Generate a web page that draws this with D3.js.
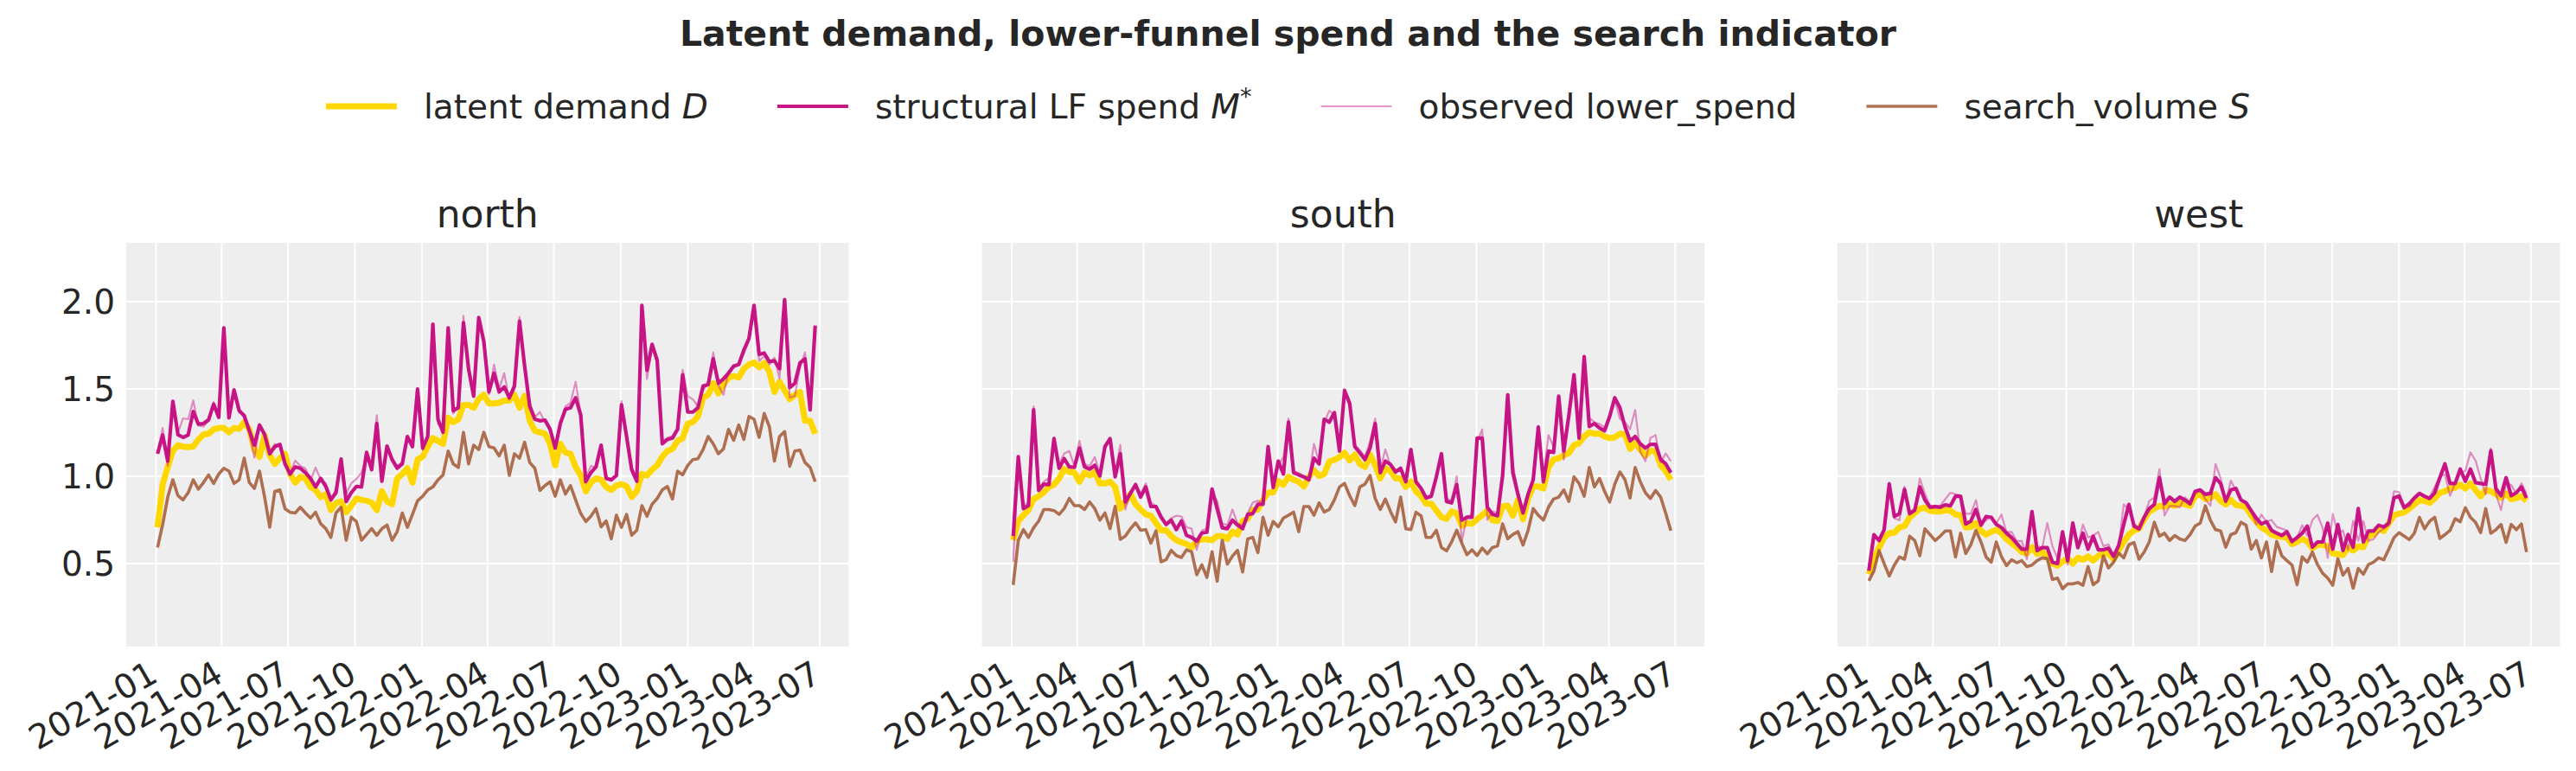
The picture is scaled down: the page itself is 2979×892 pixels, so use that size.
<!DOCTYPE html>
<html>
<head>
<meta charset="utf-8">
<script src="https://cdn.jsdelivr.net/npm/d3@7"></script>
<style>
  body { margin: 0; background: #fff; }
  text { font-family: "DejaVu Sans", sans-serif; fill: #262626; }
</style>
</head>
<body>
<svg id="chart" width="2979" height="892"></svg>
<script>
// weekly index (Sundays), 2021-01-03 .. 2023-06-25
const firstWeek = "2021-01-03";
const lastWeek = "2023-06-25";
const xTickLabels = ["2021-01", "2021-04", "2021-07", "2021-10", "2022-01", "2022-04",
    "2022-07", "2022-10", "2023-01", "2023-04", "2023-07"];
const yTickValues = [0.5, 1.0, 1.5, 2.0];
const regions = ["north", "south", "west"];

// north
const northDemand = [0.708, 0.955, 1.054, 1.145, 1.178, 1.170, 1.167, 1.170, 1.211, 1.239,
    1.244, 1.269, 1.277, 1.277, 1.252, 1.277, 1.272, 1.310, 1.269, 1.153,
    1.112, 1.236, 1.120, 1.071, 1.104, 1.129, 1.013, 0.964, 0.997, 0.988,
    0.939, 0.922, 0.881, 0.898, 0.807, 0.848, 0.856, 0.794, 0.832, 0.873,
    0.865, 0.860, 0.848, 0.807, 0.914, 0.856, 0.840, 0.988, 1.013, 1.046,
    0.964, 1.096, 1.112, 1.170, 1.219, 1.203, 1.186, 1.335, 1.310, 1.327,
    1.409, 1.409, 1.393, 1.442, 1.467, 1.417, 1.417, 1.421, 1.434, 1.434,
    1.467, 1.393, 1.460, 1.318, 1.261, 1.252, 1.244, 1.186, 1.063, 1.186,
    1.137, 1.129, 1.054, 1.005, 0.914, 0.964, 0.988, 0.980, 0.939, 0.922,
    0.947, 0.955, 0.942, 0.881, 0.914, 1.013, 1.005, 1.038, 1.063, 1.112,
    1.145, 1.157, 1.203, 1.219, 1.302, 1.310, 1.343, 1.450, 1.467, 1.533,
    1.475, 1.525, 1.566, 1.574, 1.566, 1.616, 1.640, 1.652, 1.624, 1.649,
    1.599, 1.483, 1.541, 1.492, 1.442, 1.467, 1.483, 1.318, 1.318, 1.244];
const northSpend = [1.129, 1.236, 1.087, 1.429, 1.239, 1.223, 1.236, 1.371, 1.299, 1.302,
    1.323, 1.413, 1.338, 1.850, 1.335, 1.495, 1.376, 1.347, 1.261, 1.178,
    1.294, 1.239, 1.129, 1.170, 1.183, 1.071, 1.013, 1.054, 1.046, 1.021,
    0.988, 0.939, 0.988, 0.942, 0.865, 0.906, 1.099, 0.856, 0.906, 0.942,
    0.939, 1.137, 1.038, 1.302, 0.972, 1.173, 1.096, 1.046, 1.071, 1.228,
    1.170, 1.500, 1.162, 1.228, 1.871, 1.327, 1.252, 1.850, 1.376, 1.393,
    1.880, 1.616, 1.459, 1.909, 1.772, 1.483, 1.591, 1.483, 1.512, 1.450,
    1.517, 1.888, 1.632, 1.401, 1.327, 1.318, 1.322, 1.269, 1.162, 1.302,
    1.384, 1.393, 1.450, 1.351, 0.969, 1.021, 1.054, 1.178, 0.988, 0.980,
    1.005, 1.409, 1.228, 1.038, 0.972, 1.979, 1.607, 1.756, 1.665, 1.186,
    1.211, 1.219, 1.269, 1.582, 1.368, 1.368, 1.393, 1.517, 1.525, 1.673,
    1.533, 1.558, 1.591, 1.632, 1.640, 1.723, 1.789, 1.979, 1.698, 1.706,
    1.657, 1.662, 1.616, 2.012, 1.508, 1.533, 1.649, 1.673, 1.381, 1.863];
const northObserved = [1.135, 1.277, 1.060, 1.420, 1.250, 1.332, 1.327, 1.434, 1.290, 1.285,
    1.318, 1.426, 1.345, 1.830, 1.340, 1.480, 1.365, 1.355, 1.250, 1.107,
    1.285, 1.230, 1.140, 1.185, 1.170, 1.080, 1.020, 1.090, 1.060, 1.045,
    0.975, 1.050, 0.980, 0.960, 0.860, 0.930, 1.080, 0.900, 0.960, 0.985,
    1.020, 1.110, 1.040, 1.350, 0.990, 1.170, 1.100, 1.060, 1.080, 1.220,
    1.190, 1.480, 1.150, 1.240, 1.850, 1.300, 1.270, 1.830, 1.360, 1.410,
    1.920, 1.600, 1.470, 1.890, 1.760, 1.470, 1.640, 1.500, 1.591, 1.440,
    1.500, 1.913, 1.610, 1.420, 1.340, 1.368, 1.310, 1.280, 1.175, 1.290,
    1.400, 1.420, 1.541, 1.360, 0.990, 1.060, 1.050, 1.160, 1.000, 0.975,
    1.010, 1.430, 1.210, 1.050, 0.990, 1.950, 1.558, 1.740, 1.650, 1.200,
    1.220, 1.230, 1.280, 1.610, 1.459, 1.440, 1.400, 1.490, 1.540, 1.710,
    1.520, 1.467, 1.600, 1.620, 1.650, 1.700, 1.780, 1.950, 1.660, 1.690,
    1.640, 1.680, 1.560, 1.990, 1.450, 1.460, 1.620, 1.710, 1.400, 1.840];
const northSearch = [0.592, 0.724, 0.881, 0.980, 0.889, 0.865, 0.906, 0.980, 0.926, 0.964,
    1.008, 0.959, 1.013, 1.046, 1.030, 0.959, 0.980, 1.104, 0.964, 0.931,
    1.030, 0.881, 0.708, 0.914, 0.922, 0.815, 0.794, 0.790, 0.823, 0.790,
    0.761, 0.794, 0.728, 0.700, 0.650, 0.790, 0.823, 0.634, 0.766, 0.741,
    0.634, 0.667, 0.700, 0.662, 0.700, 0.721, 0.634, 0.683, 0.790, 0.708,
    0.782, 0.860, 0.886, 0.922, 0.939, 0.980, 1.008, 1.145, 1.071, 1.051,
    1.252, 1.071, 1.178, 1.153, 1.252, 1.170, 1.162, 1.117, 1.178, 1.005,
    1.129, 1.104, 1.195, 1.079, 1.046, 0.919, 0.947, 0.969, 0.886, 0.980,
    0.898, 0.947, 0.865, 0.787, 0.741, 0.771, 0.815, 0.711, 0.744, 0.642,
    0.777, 0.708, 0.782, 0.662, 0.691, 0.832, 0.771, 0.840, 0.873, 0.922,
    0.942, 0.870, 1.030, 1.008, 1.063, 1.096, 1.101, 1.153, 1.228, 1.186,
    1.129, 1.157, 1.269, 1.206, 1.294, 1.211, 1.343, 1.327, 1.223, 1.360,
    1.285, 1.087, 1.228, 1.256, 1.058, 1.145, 1.150, 1.079, 1.051, 0.969];

// south
const southDemand = [0.634, 0.744, 0.777, 0.807, 0.870, 0.886, 0.909, 0.939, 0.952, 0.988,
    1.041, 1.025, 1.021, 0.969, 1.021, 1.005, 1.025, 0.959, 0.959, 0.969,
    0.939, 0.815, 0.856, 0.898, 0.840, 0.810, 0.782, 0.774, 0.733, 0.691,
    0.691, 0.658, 0.634, 0.622, 0.612, 0.592, 0.629, 0.639, 0.639, 0.634,
    0.658, 0.658, 0.642, 0.683, 0.667, 0.744, 0.757, 0.807, 0.810, 0.865,
    0.906, 0.909, 0.972, 0.952, 0.997, 0.980, 0.969, 0.942, 0.997, 1.035,
    1.002, 1.013, 1.084, 1.095, 1.110, 1.134, 1.091, 1.124, 1.071, 1.054,
    1.124, 1.063, 0.988, 1.046, 1.030, 0.988, 0.988, 0.939, 0.969, 0.914,
    0.886, 0.843, 0.843, 0.804, 0.766, 0.757, 0.799, 0.787, 0.716, 0.733,
    0.728, 0.754, 0.777, 0.804, 0.749, 0.744, 0.827, 0.832, 0.774, 0.865,
    0.754, 0.873, 0.942, 0.942, 0.930, 1.054, 1.096, 1.104, 1.120, 1.134,
    1.178, 1.190, 1.228, 1.252, 1.244, 1.244, 1.228, 1.219, 1.223, 1.244,
    1.239, 1.157, 1.190, 1.153, 1.120, 1.145, 1.145, 1.063, 1.030, 0.980];
const southSpend = [0.658, 1.112, 0.815, 0.832, 1.381, 0.919, 0.955, 0.952, 1.216, 1.046,
    1.101, 1.054, 1.051, 1.162, 1.054, 1.041, 1.063, 1.002, 1.170, 1.216,
    0.997, 1.129, 0.853, 0.903, 0.952, 0.881, 0.939, 0.827, 0.827, 0.766,
    0.724, 0.749, 0.695, 0.744, 0.662, 0.650, 0.629, 0.675, 0.680, 0.927,
    0.815, 0.705, 0.700, 0.749, 0.721, 0.700, 0.782, 0.787, 0.840, 0.840,
    1.170, 0.936, 1.087, 1.013, 1.310, 1.021, 1.008, 0.997, 0.980, 1.104,
    1.071, 1.327, 1.310, 1.365, 1.145, 1.492, 1.417, 1.170, 1.134, 1.096,
    1.162, 1.302, 1.021, 1.087, 1.068, 1.025, 1.046, 0.969, 1.153, 0.969,
    0.931, 0.876, 0.886, 0.997, 1.129, 0.856, 0.848, 0.952, 0.749, 0.766,
    0.766, 1.219, 1.219, 0.823, 0.782, 0.774, 1.005, 1.467, 1.021, 0.898,
    0.790, 0.898, 0.980, 1.282, 0.969, 1.145, 1.137, 1.459, 1.145, 1.351,
    1.582, 1.219, 1.685, 1.285, 1.302, 1.277, 1.261, 1.343, 1.450, 1.393,
    1.285, 1.203, 1.228, 1.186, 1.162, 1.183, 1.183, 1.096, 1.071, 1.021];
const southObserved = [0.510, 1.100, 0.830, 0.850, 1.400, 0.930, 0.970, 0.990, 1.200, 1.070,
    1.130, 1.145, 1.060, 1.203, 1.070, 1.060, 1.110, 1.020, 1.160, 1.210,
    1.010, 1.180, 0.810, 0.910, 0.960, 0.900, 0.960, 0.850, 0.830, 0.780,
    0.730, 0.760, 0.774, 0.770, 0.708, 0.700, 0.580, 0.690, 0.700, 0.900,
    0.860, 0.730, 0.720, 0.810, 0.730, 0.720, 0.790, 0.850, 0.860, 0.850,
    1.150, 0.950, 1.060, 1.110, 1.330, 1.030, 1.020, 1.000, 0.990, 1.186,
    1.080, 1.310, 1.376, 1.350, 1.160, 1.480, 1.400, 1.180, 1.150, 1.110,
    1.200, 1.330, 1.040, 1.155, 1.060, 1.040, 1.030, 0.980, 1.140, 0.960,
    0.930, 0.870, 0.880, 1.000, 1.120, 0.870, 0.860, 1.000, 0.627, 0.770,
    0.780, 1.200, 1.269, 0.750, 0.800, 0.790, 1.000, 1.450, 1.071, 0.910,
    0.800, 0.910, 0.990, 1.290, 1.000, 1.236, 1.170, 1.440, 1.096, 1.360,
    1.560, 1.240, 1.650, 1.335, 1.310, 1.300, 1.280, 1.350, 1.440, 1.330,
    1.310, 1.270, 1.380, 1.140, 1.087, 1.220, 1.236, 1.080, 1.131, 1.087];
const southSearch = [0.378, 0.634, 0.695, 0.650, 0.705, 0.744, 0.810, 0.810, 0.804, 0.782,
    0.815, 0.873, 0.832, 0.832, 0.810, 0.853, 0.815, 0.749, 0.790, 0.700,
    0.828, 0.639, 0.658, 0.700, 0.733, 0.691, 0.695, 0.617, 0.688, 0.510,
    0.523, 0.576, 0.546, 0.535, 0.579, 0.568, 0.436, 0.493, 0.421, 0.568,
    0.399, 0.634, 0.497, 0.543, 0.576, 0.452, 0.642, 0.650, 0.563, 0.766,
    0.662, 0.741, 0.711, 0.761, 0.777, 0.795, 0.683, 0.827, 0.827, 0.777,
    0.848, 0.795, 0.810, 0.865, 0.939, 0.959, 0.889, 0.832, 0.939, 0.955,
    1.005, 0.873, 0.810, 0.870, 0.799, 0.738, 0.881, 0.700, 0.695, 0.794,
    0.774, 0.650, 0.650, 0.691, 0.592, 0.573, 0.625, 0.691, 0.617, 0.551,
    0.579, 0.546, 0.589, 0.556, 0.592, 0.601, 0.728, 0.642, 0.667, 0.683,
    0.606, 0.691, 0.815, 0.777, 0.749, 0.823, 0.870, 0.881, 0.922, 0.856,
    0.997, 0.959, 0.886, 1.051, 0.939, 0.988, 0.914, 0.853, 0.955, 1.025,
    0.980, 0.876, 1.051, 0.969, 0.906, 0.873, 0.919, 0.881, 0.787, 0.688];

// west
const westDemand = [0.439, 0.525, 0.591, 0.649, 0.674, 0.677, 0.707, 0.715, 0.765, 0.790,
    0.815, 0.820, 0.803, 0.798, 0.798, 0.806, 0.803, 0.781, 0.776, 0.707,
    0.710, 0.732, 0.687, 0.666, 0.682, 0.694, 0.674, 0.641, 0.616, 0.594,
    0.566, 0.558, 0.594, 0.555, 0.566, 0.545, 0.500, 0.488, 0.512, 0.528,
    0.500, 0.533, 0.522, 0.541, 0.517, 0.545, 0.558, 0.558, 0.525, 0.575,
    0.624, 0.666, 0.690, 0.699, 0.753, 0.798, 0.815, 0.831, 0.826, 0.839,
    0.831, 0.848, 0.839, 0.831, 0.886, 0.897, 0.869, 0.876, 0.897, 0.859,
    0.839, 0.864, 0.836, 0.831, 0.823, 0.776, 0.740, 0.707, 0.690, 0.666,
    0.657, 0.654, 0.649, 0.611, 0.624, 0.641, 0.627, 0.588, 0.608, 0.608,
    0.599, 0.558, 0.555, 0.550, 0.591, 0.575, 0.599, 0.594, 0.657, 0.666,
    0.699, 0.687, 0.732, 0.776, 0.786, 0.793, 0.815, 0.839, 0.864, 0.859,
    0.848, 0.873, 0.906, 0.914, 0.930, 0.935, 0.952, 0.930, 0.959, 0.922,
    0.886, 0.922, 0.914, 0.897, 0.876, 0.902, 0.869, 0.876, 0.886, 0.859];
const westSpend = [0.459, 0.666, 0.632, 0.694, 0.955, 0.770, 0.786, 0.925, 0.786, 0.806,
    0.939, 0.864, 0.823, 0.826, 0.823, 0.836, 0.831, 0.886, 0.886, 0.727,
    0.743, 0.810, 0.720, 0.770, 0.765, 0.724, 0.707, 0.674, 0.649, 0.616,
    0.583, 0.583, 0.798, 0.575, 0.591, 0.591, 0.508, 0.500, 0.682, 0.517,
    0.732, 0.591, 0.674, 0.583, 0.657, 0.579, 0.579, 0.588, 0.541, 0.604,
    0.724, 0.839, 0.715, 0.699, 0.765, 0.815, 0.839, 0.992, 0.843, 0.881,
    0.856, 0.881, 0.864, 0.843, 0.914, 0.922, 0.897, 0.902, 0.992, 0.959,
    0.859, 0.922, 0.930, 0.864, 0.848, 0.803, 0.760, 0.727, 0.740, 0.690,
    0.674, 0.661, 0.682, 0.627, 0.649, 0.674, 0.715, 0.594, 0.624, 0.624,
    0.732, 0.583, 0.724, 0.575, 0.666, 0.594, 0.815, 0.624, 0.687, 0.687,
    0.720, 0.710, 0.732, 0.876, 0.886, 0.820, 0.843, 0.876, 0.902, 0.886,
    0.873, 0.906, 0.992, 1.071, 0.959, 0.959, 1.041, 0.972, 1.041, 0.964,
    0.959, 0.955, 1.146, 0.930, 0.889, 0.992, 0.889, 0.906, 0.939, 0.876];
const westObserved = [0.470, 0.650, 0.640, 0.700, 0.965, 0.760, 0.748, 0.940, 0.790, 0.800,
    0.988, 0.900, 0.830, 0.830, 0.830, 0.870, 0.906, 0.898, 0.890, 0.786,
    0.786, 0.864, 0.730, 0.748, 0.770, 0.730, 0.781, 0.680, 0.682, 0.630,
    0.630, 0.525, 0.800, 0.600, 0.590, 0.732, 0.600, 0.530, 0.670, 0.495,
    0.720, 0.600, 0.724, 0.650, 0.660, 0.682, 0.600, 0.610, 0.550, 0.600,
    0.839, 0.810, 0.730, 0.700, 0.770, 0.859, 0.880, 1.041, 0.776, 0.830,
    0.830, 0.823, 0.880, 0.850, 0.900, 0.920, 0.870, 0.831, 1.071, 0.990,
    0.850, 0.975, 0.920, 0.870, 0.850, 0.800, 0.724, 0.780, 0.740, 0.750,
    0.710, 0.700, 0.690, 0.620, 0.650, 0.720, 0.660, 0.750, 0.780, 0.705,
    0.533, 0.785, 0.670, 0.690, 0.580, 0.745, 0.630, 0.743, 0.630, 0.640,
    0.680, 0.700, 0.720, 0.914, 0.910, 0.830, 0.825, 0.870, 0.900, 0.880,
    0.880, 0.940, 1.000, 1.010, 0.889, 0.960, 1.020, 1.030, 1.137, 1.090,
    0.990, 0.897, 1.160, 0.900, 0.806, 0.960, 0.950, 0.900, 0.960, 0.900];
const westSearch = [0.401, 0.459, 0.575, 0.500, 0.429, 0.492, 0.538, 0.525, 0.657, 0.632,
    0.545, 0.699, 0.666, 0.632, 0.657, 0.687, 0.687, 0.538, 0.674, 0.558,
    0.608, 0.690, 0.624, 0.538, 0.508, 0.624, 0.541, 0.488, 0.522, 0.505,
    0.517, 0.483, 0.492, 0.517, 0.533, 0.528, 0.409, 0.417, 0.356, 0.384,
    0.384, 0.392, 0.376, 0.483, 0.379, 0.401, 0.545, 0.475, 0.508, 0.561,
    0.533, 0.608, 0.621, 0.525, 0.566, 0.624, 0.737, 0.657, 0.674, 0.632,
    0.661, 0.641, 0.632, 0.666, 0.715, 0.732, 0.831, 0.748, 0.694, 0.687,
    0.594, 0.666, 0.677, 0.737, 0.720, 0.583, 0.632, 0.533, 0.624, 0.455,
    0.627, 0.545, 0.517, 0.492, 0.379, 0.538, 0.508, 0.566, 0.495, 0.445,
    0.417, 0.376, 0.528, 0.434, 0.472, 0.359, 0.472, 0.439, 0.495, 0.508,
    0.533, 0.522, 0.583, 0.649, 0.677, 0.657, 0.637, 0.674, 0.765, 0.699,
    0.743, 0.765, 0.644, 0.666, 0.690, 0.757, 0.740, 0.820, 0.765, 0.737,
    0.677, 0.815, 0.674, 0.694, 0.724, 0.621, 0.724, 0.694, 0.727, 0.566];

const seriesByRegion = {
    north: [northDemand, northSpend, northObserved, northSearch],
    south: [southDemand, southSpend, southObserved, southSearch],
    west: [westDemand, westSpend, westObserved, westSearch],
};

// styles for the four series, in draw order
const seriesStyle = [
    { color: "#FFD700", width: 7, opacity: 1 },
    { color: "#C71585", width: 4.2, opacity: 1 },
    { color: "#C71585", width: 2.2, opacity: 0.45 },
    { color: "#A0522D", width: 3.6, opacity: 0.82 },
];

const svg = d3.select("#chart");
const parseDay = d3.utcParse("%Y-%m-%d");
const parseMonth = d3.utcParse("%Y-%m");
const weeks = d3.utcWeek.range(parseDay(firstWeek), d3.utcDay.offset(parseDay(lastWeek), 1));

// Layout
const panelLefts = [146, 1135.5, 2125];
const panelWidth = 835.5;
const panelTop = 281;
const panelBottom = 748;

const xScale = d3.scaleUtc()
    .domain([parseDay("2020-11-21"), parseDay("2023-08-10")])
    .range([0, panelWidth]);
const yScale = d3.scaleLinear()
    .domain([0.025, 2.337])
    .range([panelBottom, panelTop]);

const line = d3.line()
    .x((d, i) => xScale(weeks[i]))
    .y(d => yScale(d));

// Title
svg.append("text")
    .attr("x", 1489.5)
    .attr("y", 53)
    .attr("text-anchor", "middle")
    .style("font-size", "41px")
    .style("font-weight", "bold")
    .text("Latent demand, lower-funnel spend and the search indicator");

regions.forEach((region, p) => {
    const g = svg.append("g").attr("transform", `translate(${panelLefts[p]},0)`);

    g.append("rect")
        .attr("x", 0).attr("y", panelTop)
        .attr("width", panelWidth).attr("height", panelBottom - panelTop)
        .attr("fill", "#eeeeee");

    // grid
    g.append("g")
        .selectAll("line.vgrid")
        .data(xTickLabels.map(parseMonth))
        .join("line")
        .attr("x1", d => xScale(d)).attr("x2", d => xScale(d))
        .attr("y1", panelTop).attr("y2", panelBottom)
        .attr("stroke", "#fff").attr("stroke-width", 2);
    g.append("g")
        .selectAll("line.hgrid")
        .data(yTickValues)
        .join("line")
        .attr("x1", 0).attr("x2", panelWidth)
        .attr("y1", d => yScale(d)).attr("y2", d => yScale(d))
        .attr("stroke", "#fff").attr("stroke-width", 2);

    // series
    seriesByRegion[region].forEach((values, s) => {
        g.append("path")
            .datum(values)
            .attr("d", line)
            .attr("fill", "none")
            .attr("stroke", seriesStyle[s].color)
            .attr("stroke-width", seriesStyle[s].width)
            .attr("stroke-opacity", seriesStyle[s].opacity)
            .attr("stroke-linejoin", "round");
    });

    // panel title
    g.append("text")
        .attr("x", panelWidth / 2)
        .attr("y", 263)
        .attr("text-anchor", "middle")
        .style("font-size", "44px")
        .text(region);

    // x tick labels
    g.append("g")
        .selectAll("text")
        .data(xTickLabels)
        .join("text")
        .attr("transform", d => `translate(${xScale(parseMonth(d)) + 4},787) rotate(-30)`)
        .attr("text-anchor", "end")
        .style("font-size", "39px")
        .text(d => d);

    // y tick labels, first panel only (shared y)
    if (p === 0) {
        g.append("g")
            .selectAll("text")
            .data(yTickValues)
            .join("text")
            .attr("x", -13)
            .attr("y", d => yScale(d))
            .attr("dy", "0.36em")
            .attr("text-anchor", "end")
            .style("font-size", "39px")
            .text(d => d3.format(".1f")(d));
    }
});

// Legend
const legendItems = [
    { parts: [["latent demand ", "normal"], ["D", "italic"]] },
    { parts: [["structural LF spend ", "normal"], ["M", "italic"]], sup: "*" },
    { parts: [["observed lower_spend", "normal"]] },
    { parts: [["search_volume ", "normal"], ["S", "italic"]] },
];
const handleLen = 82, handleGap = 31, itemGap = 80, legendY = 123;
const legend = svg.append("g");
let cursor = 0;
legendItems.forEach((item, k) => {
    const gi = legend.append("g").attr("transform", `translate(${cursor},0)`);
    const st = seriesStyle[k];
    gi.append("line")
        .attr("x1", 0).attr("x2", handleLen)
        .attr("y1", legendY).attr("y2", legendY)
        .attr("stroke", st.color)
        .attr("stroke-width", st.width)
        .attr("stroke-opacity", st.opacity);
    const t = gi.append("text")
        .attr("x", handleLen + handleGap)
        .attr("y", 137)
        .style("font-size", "39px");
    item.parts.forEach(([txt, fs]) => t.append("tspan").style("font-style", fs).text(txt));
    if (item.sup) {
        t.append("tspan").attr("dy", -16).style("font-size", "27px").text(item.sup);
    }
    cursor += handleLen + handleGap + t.node().getComputedTextLength() + itemGap;
});
const legendWidth = cursor - itemGap;
legend.attr("transform", `translate(${1489.5 - legendWidth / 2},0)`);
</script>
</body>
</html>
